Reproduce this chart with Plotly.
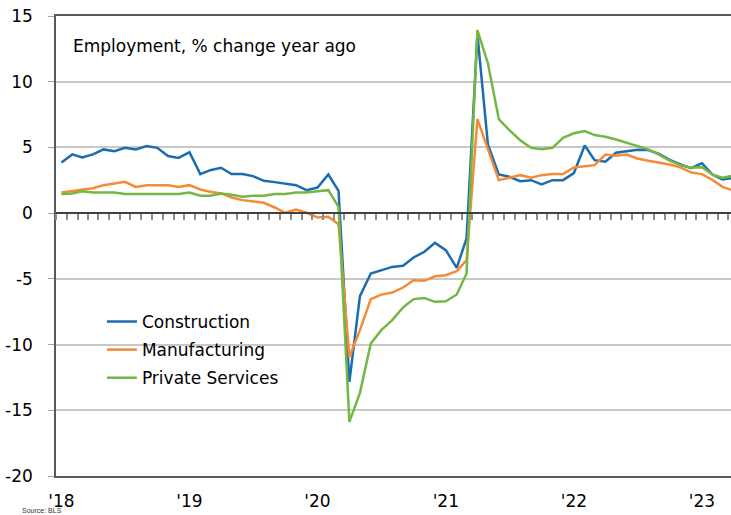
import pandas as pd
import plotly.graph_objects as go

# monthly, Jan 2018 - Apr 2023
months = pd.date_range("2018-01-01", periods=64, freq="MS")

construction = [
    3.86, 4.47, 4.24, 4.47, 4.85, 4.72, 4.97, 4.85, 5.10, 4.97, 4.34, 4.20,
    4.64, 2.97, 3.27, 3.45, 2.97, 2.97, 2.82, 2.46, 2.36, 2.26, 2.13, 1.75,
    1.95, 2.94, 1.70, -12.84, -6.32, -4.59, -4.34, -4.09, -4.01, -3.37, -2.94, -2.26,
    -2.82, -4.16, -1.93, 13.6, 5.2, 2.94, 2.77, 2.43, 2.51, 2.18, 2.51, 2.51,
    3.05, 5.15, 4.03, 3.91, 4.6, 4.73, 4.82, 4.8, 4.5, 4.05, 3.7, 3.43,
    3.8, 2.92, 2.56, 2.68,
]
manufacturing = [
    1.57, 1.7, 1.8, 1.9, 2.13, 2.26, 2.38, 2.0, 2.13, 2.13, 2.13, 2.0,
    2.13, 1.8, 1.62, 1.5, 1.19, 0.99, 0.91, 0.79, 0.43, 0.03, 0.28, 0.03,
    -0.33, -0.28, -0.84, -10.93, -8.9, -6.54, -6.2, -6.04, -5.66, -5.1, -5.15, -4.8,
    -4.72, -4.41, -3.58, 7.15, 4.85, 2.51, 2.69, 2.89, 2.69, 2.89, 2.97, 2.97,
    3.47, 3.58, 3.65, 4.46, 4.36, 4.46, 4.16, 3.98, 3.86, 3.7, 3.48, 3.1,
    2.97, 2.51, 2.0, 1.72,
]
private_services = [
    1.45, 1.5, 1.67, 1.57, 1.57, 1.57, 1.45, 1.45, 1.45, 1.45, 1.45, 1.45,
    1.57, 1.32, 1.32, 1.5, 1.4, 1.24, 1.32, 1.32, 1.45, 1.45, 1.57, 1.57,
    1.67, 1.75, 0.48, -15.88, -13.67, -9.92, -8.9, -8.14, -7.18, -6.54, -6.46, -6.75,
    -6.7, -6.19, -4.59, 13.93, 11.39, 7.15, 6.32, 5.55, 4.97, 4.87, 4.97, 5.73,
    6.08, 6.24, 5.94, 5.81, 5.6, 5.35, 5.1, 4.85, 4.45, 4.0, 3.65, 3.45,
    3.5, 2.92, 2.7, 2.85,
]

year_ticks = ["2018-01-01", "2019-01-01", "2020-01-01", "2021-01-01", "2022-01-01", "2023-01-01"]
year_labels = ["'18", "'19", "'20", "'21", "'22", "'23"]
y_ticks = [-20, -15, -10, -5, 0, 5, 10, 15]
y_labels = ["-20", "-15", "-10", "-5", "0", "5", "10", "15"]

series = [
    ("Construction", construction, "#1b6db0"),
    ("Manufacturing", manufacturing, "#f68a35"),
    ("Private Services", private_services, "#74b843"),
]

FONT = "DejaVu Sans, Verdana, sans-serif"
x_range = ["2017-12-16 12:00", "2023-03-25"]

fig = go.Figure()
for i, (name, vals, color) in enumerate(series):
    fig.add_trace(go.Scatter(
        x=months, y=vals, name=name, mode="lines",
        line=dict(color=color, width=2.5),
        legendgroup=str(i),
    ))

# invisible trace so the zero-line axis gets drawn
fig.add_trace(go.Scatter(
    x=months, y=construction, xaxis="x2", mode="lines",
    line=dict(width=0), opacity=0, showlegend=False, hoverinfo="skip",
))

fig.update_layout(
    width=731, height=515,
    margin=dict(l=56, r=0, t=16, b=39),
    plot_bgcolor="white", paper_bgcolor="white",
    font=dict(family=FONT, size=17, color="black"),
    showlegend=True,
    legend=dict(
        x=0.068, y=0.374, xanchor="left", yanchor="top",
        bgcolor="rgba(0,0,0,0)", tracegroupgap=3,
        font=dict(family=FONT, size=17, color="black"),
    ),
    xaxis=dict(
        type="date", range=x_range, automargin=False,
        tickvals=year_ticks, ticktext=year_labels,
        showgrid=False, zeroline=False,
        showline=True, linecolor="#595959", linewidth=1.5, mirror=True,
        ticks="", ticklabelstandoff=9,
        tickfont=dict(family=FONT, size=17, color="black"),
    ),
    xaxis2=dict(
        type="date", range=x_range, overlaying="x", anchor="free",
        position=20 / 35, side="bottom", automargin=False,
        tickmode="linear", tick0="2017-12-16 12:00", dtick="M1",
        ticks="outside", ticklen=6, tickcolor="#8c8c8c", tickwidth=1.5,
        showticklabels=False, showgrid=False, zeroline=False,
        showline=True, linecolor="#404040", linewidth=1.5,
    ),
    yaxis=dict(
        range=[-20, 15], automargin=False,
        tickvals=y_ticks, ticktext=y_labels,
        showgrid=True, gridcolor="#c8c8c8", gridwidth=1.5,
        zeroline=False,
        showline=True, linecolor="#595959", linewidth=1.5,
        ticks="outside", ticklen=6, tickcolor="#a6a6a6",
        ticklabelstandoff=12,
        tickfont=dict(family=FONT, size=17, color="black"),
    ),
    annotations=[
        dict(text="Employment, % change year ago", xref="paper", yref="paper",
             x=0.022, y=0.935, xanchor="left", yanchor="middle", showarrow=False,
             font=dict(family=FONT, size=17, color="black")),
        dict(text="Source: BLS", xref="paper", yref="paper",
             x=-0.054, y=-0.075, xanchor="left", yanchor="middle", showarrow=False,
             font=dict(family="Liberation Sans Narrow, Liberation Sans, sans-serif",
                       size=7, color="#333333")),
    ],
)

# drop the default page margin so the figure sits at the window's corner
fig.write_html("out.html", config={"displayModeBar": False},
               post_script="document.body.style.margin='0px';")
